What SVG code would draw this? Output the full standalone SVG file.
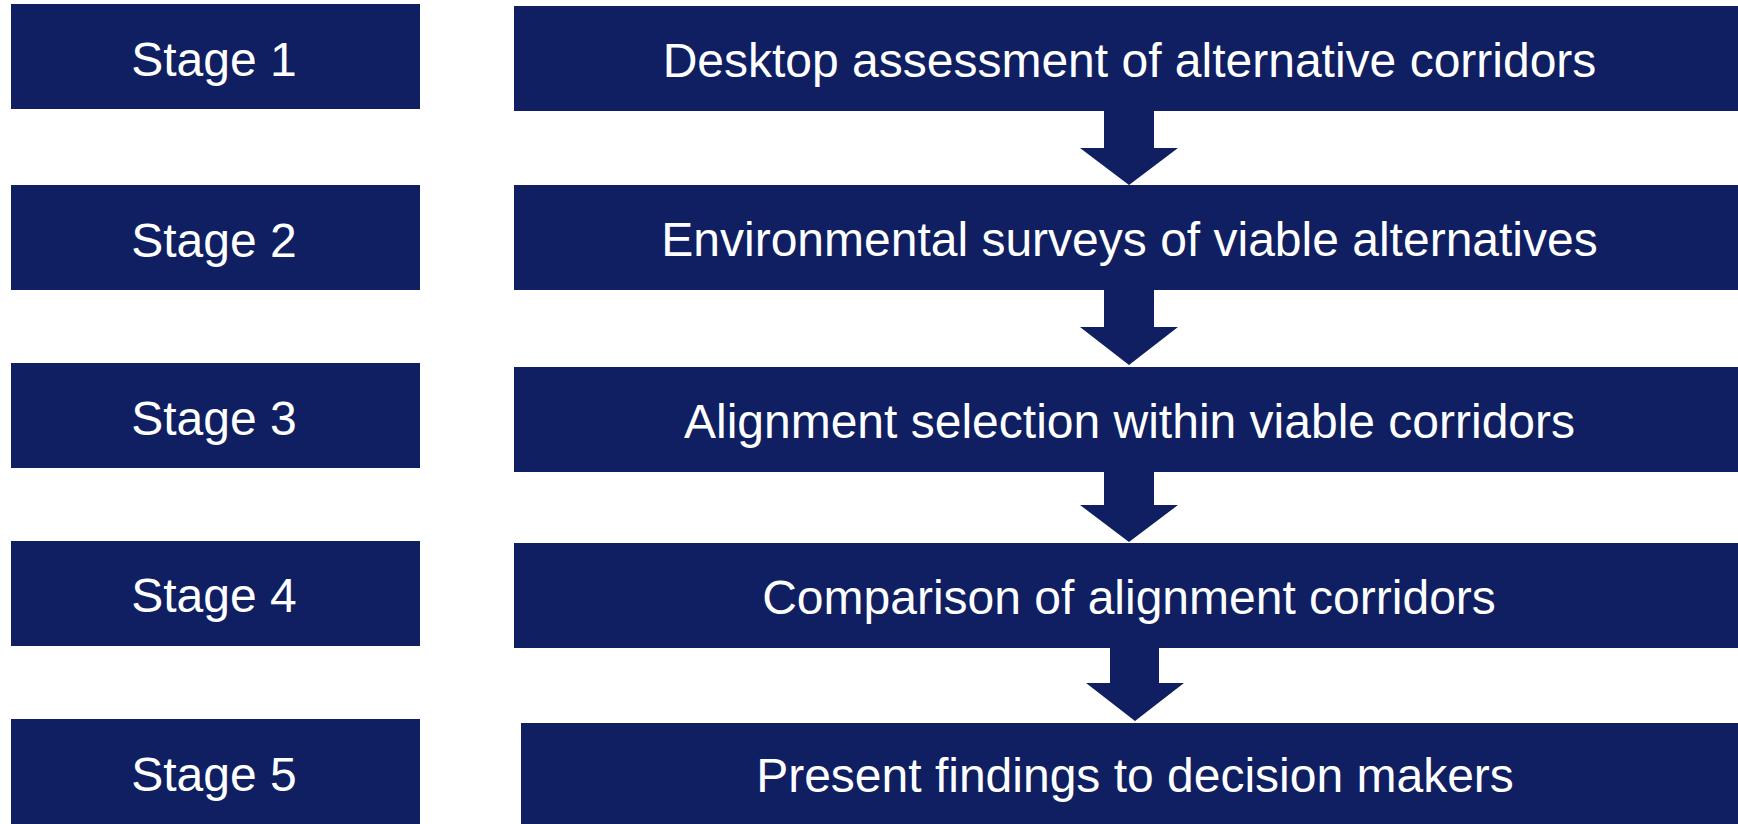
<svg xmlns="http://www.w3.org/2000/svg" width="1738" height="824" viewBox="0 0 1738 824">
<style>
.box{fill:#0F1F62}
.arrow{fill:#0F1F62}
text{font-family:"Liberation Sans",Arial,sans-serif;font-size:48px;fill:#FFFFFF;text-anchor:middle}
</style>
<rect x="0" y="0" width="1738" height="824" fill="#FFFFFF"/>
<g id="stage1"><rect class="box" x="11" y="4" width="409" height="105"/><text x="214" y="76">Stage 1</text></g>
<g id="stage2"><rect class="box" x="11" y="185" width="409" height="105"/><text x="214" y="256.5">Stage 2</text></g>
<g id="stage3"><rect class="box" x="11" y="363" width="409" height="105"/><text x="214" y="434.5">Stage 3</text></g>
<g id="stage4"><rect class="box" x="11" y="541" width="409" height="105"/><text x="214" y="612">Stage 4</text></g>
<g id="stage5"><rect class="box" x="11" y="719" width="409" height="105"/><text x="214" y="790.5">Stage 5</text></g>
<g id="step1"><rect class="box" x="514" y="6" width="1224" height="105"/><text x="1129.5" y="77">Desktop assessment of alternative corridors</text></g>
<g id="step2"><rect class="box" x="514" y="185" width="1224" height="105"/><text x="1129.5" y="256">Environmental surveys of viable alternatives</text></g>
<g id="step3"><rect class="box" x="514" y="367" width="1224" height="105"/><text x="1129.5" y="438">Alignment selection within viable corridors</text></g>
<g id="step4"><rect class="box" x="514" y="543" width="1224" height="105"/><text x="1129" y="614">Comparison of alignment corridors</text></g>
<g id="step5"><rect class="box" x="521" y="723" width="1217" height="101"/><text x="1135" y="792">Present findings to decision makers</text></g>
<g id="connectors">
<polygon class="arrow" points="1104,110 1154,110 1154,148 1178,148 1129,185 1080,148 1104,148"/>
<polygon class="arrow" points="1104,289 1154,289 1154,327 1178,327 1129,365 1080,327 1104,327"/>
<polygon class="arrow" points="1104,471 1154,471 1154,505 1178,505 1129,542 1080,505 1104,505"/>
<polygon class="arrow" points="1110,647 1159,647 1159,683 1184,683 1135,721 1086,683 1110,683"/>
</g>
</svg>
